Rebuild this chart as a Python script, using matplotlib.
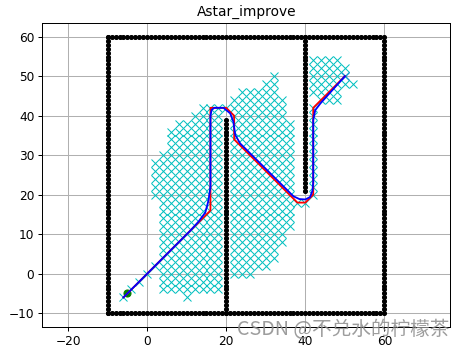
import numpy as np
import matplotlib
matplotlib.use("Agg")
import matplotlib.pyplot as plt

# ---- data ----
# obstacle walls (x0, y0, x1, y1), obstacle points every 1 unit along each wall
wall_x0 = [-10, 60, -10, -10, 20, 40]
wall_y0 = [-10, -10, 60, -10, -10, 21]
wall_x1 = [59, 60, 60, -10, 20, 40]
wall_y1 = [-10, 59, 60, 60, 39, 60]

start_x, start_y = -5, -5
goal_x, goal_y = 50, 50

# explored (closed-set) nodes on a 2-unit grid, given as row segments
row_y = [-6, -6, -4, -4, -2, -2, 0, 0, 2, 4, 6, 8, 10, 12, 14, 16, 18,
         20, 22, 24, 26, 28, 30, 32, 34, 36, 38, 40, 42,
         0, 2, 4, 6, 8, 10, 12, 14, 16, 18, 20, 22, 24, 26, 28, 30, 32, 34, 36, 38, 40, 42, 44, 46, 48, 50,
         20, 22, 24, 26, 28, 30, 32, 34, 36, 38, 40, 42, 44, 46, 48, 50, 52, 54]
row_x0 = [-6, 10, -4, 4, -2, 4, 0, 4, 2, 4, 4, 4, 4, 4, 4, 4, 4,
          2, 2, 2, 2, 2, 4, 6, 6, 6, 8, 12, 14,
          22, 22, 22, 22, 22, 22, 22, 22, 22, 22, 22, 22, 22, 22, 22, 22, 22, 22, 22, 22, 22, 24, 22, 24, 30, 32,
          42, 42, 42, 42, 42, 42, 42, 42, 42, 42, 42, 42, 44, 42, 42, 42, 42, 42]
row_x1 = [-6, 10, -4, 18, -2, 18, 0, 18, 18, 18, 18, 18, 18, 18, 18, 18, 18,
          18, 18, 18, 18, 18, 18, 18, 18, 18, 18, 18, 22,
          26, 30, 32, 32, 34, 34, 36, 36, 36, 40, 36, 36, 36, 36, 36, 36, 36, 36, 36, 36, 34, 34, 34, 32, 32, 32,
          42, 42, 42, 42, 42, 42, 42, 42, 42, 42, 42, 42, 48, 48, 52, 50, 50, 48]

# raw A* path (corner vertices)
raw_x = [-6, 16, 16, 20, 22, 22, 38, 40, 42, 42, 50]
raw_y = [-6, 16, 42, 42, 40, 34, 18, 18, 20, 42, 50]

# improved (smoothed) path
smooth_x = [-6, 11, 13, 14.7, 15.5, 16, 16, 16.3, 17, 19.3, 21, 21.8, 22, 22.3, 23.5,
            37, 38.5, 40, 41.2, 41.8, 42, 42, 42.5, 43.8, 50]
smooth_y = [-6, 11, 13.2, 15.5, 18.5, 22, 40, 41.5, 42, 42, 40.6, 38.5, 37, 35.1, 33,
            19.6, 18.9, 18.8, 19.4, 21, 23, 38.9, 41.4, 43.1, 50]

title = "Astar_improve"
watermark = "CSDN @不兑水的柠檬茶"

# ---- build ----
ox, oy = [], []
for x0, y0, x1, y1 in zip(wall_x0, wall_y0, wall_x1, wall_y1):
    n = int(max(abs(x1 - x0), abs(y1 - y0))) + 1
    ox.extend(np.linspace(x0, x1, n))
    oy.extend(np.linspace(y0, y1, n))

cx, cy = [], []
for y, a, b in zip(row_y, row_x0, row_x1):
    for x in range(a, b + 1, 2):
        cx.append(x)
        cy.append(y)

fig = plt.figure(figsize=(6.4, 4.8), dpi=72.72)
ax = fig.add_axes([42 / 465, 1 - 327 / 349, 408 / 465, 304 / 349])
ax.plot(ox, oy, ".k", markersize=8)
ax.plot(start_x, start_y, "og", markersize=7)
ax.plot(goal_x, goal_y, "xb", markersize=7)
ax.grid(True, linewidth=1.0)
ax.plot(cx, cy, "xc", markersize=7.8, markeredgewidth=1.0)
ax.plot(raw_x, raw_y, "-r", linewidth=1.8)
ax.plot(smooth_x, smooth_y, "-b", linewidth=1.8)
ax.set_xlim(-26.6, 76.7)
ax.set_ylim(-13.5, 63.5)
ax.set_title(title, fontsize=13.7, pad=7)
ax.set_xticks([-20, 0, 20, 40, 60])
ax.set_yticks([-10, 0, 10, 20, 30, 40, 50, 60])
ax.tick_params(labelsize=12, length=4.2, width=1.0)
for s in ax.spines.values():
    s.set_linewidth(1.0)

fig.text(449 / 465, 1 - 329 / 349, watermark, ha="right", va="center",
         fontsize=19.5, color="#8c8c8c", alpha=0.85,
         family=["Noto Sans CJK SC", "DejaVu Sans"])

fig.savefig("out.png", dpi=72.72)
